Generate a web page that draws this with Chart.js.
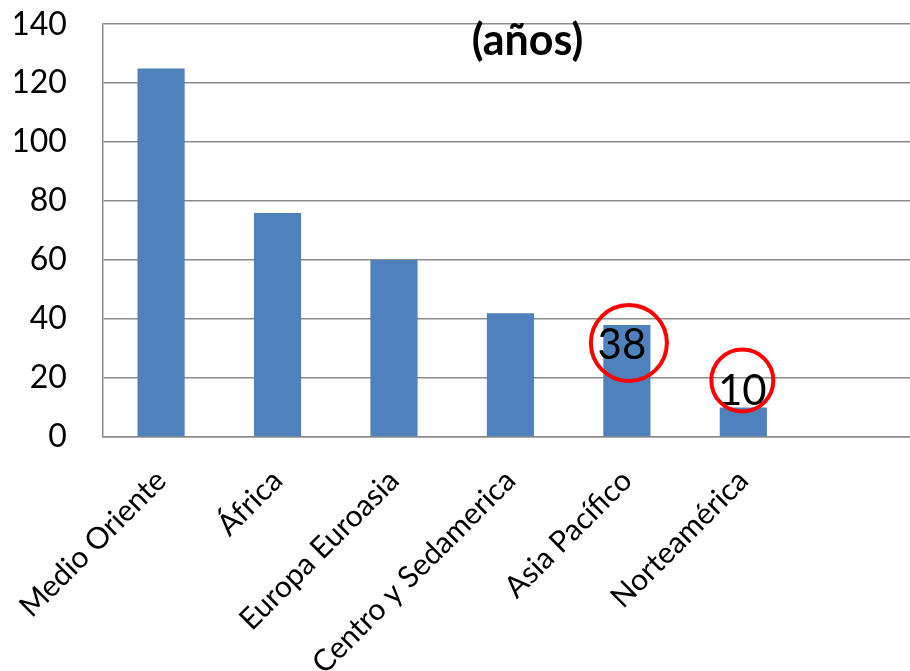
<!DOCTYPE html>
<html><head><meta charset="utf-8">
<script src="https://cdn.jsdelivr.net/npm/chart.js@4"></script>
<style>
html,body{margin:0;padding:0;overflow:hidden;background:#fff;width:910px;height:671px}
#wrap{position:absolute;left:-8px;top:-31px;width:928px;height:702px}
</style></head>
<body><div id="wrap"><canvas id="c"></canvas></div>
<script>
// ---- data ----
const categories = ["Medio Oriente", "África", "Europa Euroasia", "Centro y Sedamerica", "Asia Pacífico", "Norteamérica", ""];
const values = [125, 76, 60, 42, 38, 10, null];
const yTicks = [0, 20, 40, 60, 80, 100, 120, 140];
const highlighted = [4, 5];          // indices of bars with circled value labels
const titleText = "(años)";

// ---- annotation styling (not data) ----
const annoStyle = {
  4: { textDx: -5, textDy: 20, circleDx: 2, circleDy: 18, r: 38 },
  5: { textDx: -1, textDy: -16, circleDx: -1, circleDy: -27, r: 31 }
};

const annotatePlugin = {
  id: 'annotate',
  afterDatasetsDraw(chart) {
    const ctx = chart.ctx;
    const meta = chart.getDatasetMeta(0);
    ctx.save();
    highlighted.forEach(i => {
      const bar = meta.data[i];
      const s = annoStyle[i];
      ctx.font = '42px Lato';
      ctx.fillStyle = '#000';
      ctx.textAlign = 'center';
      ctx.textBaseline = 'middle';
      ctx.fillText(String(values[i]), bar.x + s.textDx, bar.y + s.textDy);
      ctx.beginPath();
      ctx.arc(bar.x + s.circleDx, bar.y + s.circleDy, s.r, 0, Math.PI * 2);
      ctx.lineWidth = 4;
      ctx.strokeStyle = '#ff0000';
      ctx.stroke();
    });
    const a = chart.chartArea;
    ctx.font = 'bold 43px Lato';
    ctx.fillStyle = '#000';
    ctx.textAlign = 'center';
    ctx.textBaseline = 'middle';
    ctx.fillText(titleText, (a.left + a.right) / 2 + 17, a.top + 17);
    ctx.restore();
  }
};

new Chart(document.getElementById('c'), {
  type: 'bar',
  data: {
    labels: categories,
    datasets: [{
      data: values,
      backgroundColor: '#4F81BD',
      borderWidth: 0,
      barPercentage: 0.405,
      categoryPercentage: 1.0
    }]
  },
  options: {
    responsive: true,
    maintainAspectRatio: false,
    animation: false,
    layout: { padding: { left: 8, top: 23, right: 2, bottom: 0 } },
    plugins: { legend: { display: false }, tooltip: { enabled: false }, title: { display: false } },
    scales: {
      x: {
        grid: { display: true, drawOnChartArea: false, drawTicks: false },
        border: { display: true, color: '#8c8c8c', width: 1.5 },
        ticks: {
          font: { family: 'Lato', size: 30 },
          color: '#000',
          maxRotation: 45, minRotation: 45,
          autoSkip: false,
          padding: 26
        },
        afterFit(scale) { scale.height = 234; }
      },
      y: {
        min: 0, max: 140,
        afterBuildTicks(scale) { scale.ticks = yTicks.map(v => ({ value: v })); },
        grid: { color: '#8c8c8c', lineWidth: 1.5, drawTicks: false },
        border: { display: true, color: '#8c8c8c', width: 1.5 },
        ticks: {
          font: { family: 'Lato', size: 32 },
          color: '#000',
          padding: 36
        },
        afterFit(scale) { scale.width = 88; }
      }
    }
  },
  plugins: [annotatePlugin]
});
</script>
</body></html>
